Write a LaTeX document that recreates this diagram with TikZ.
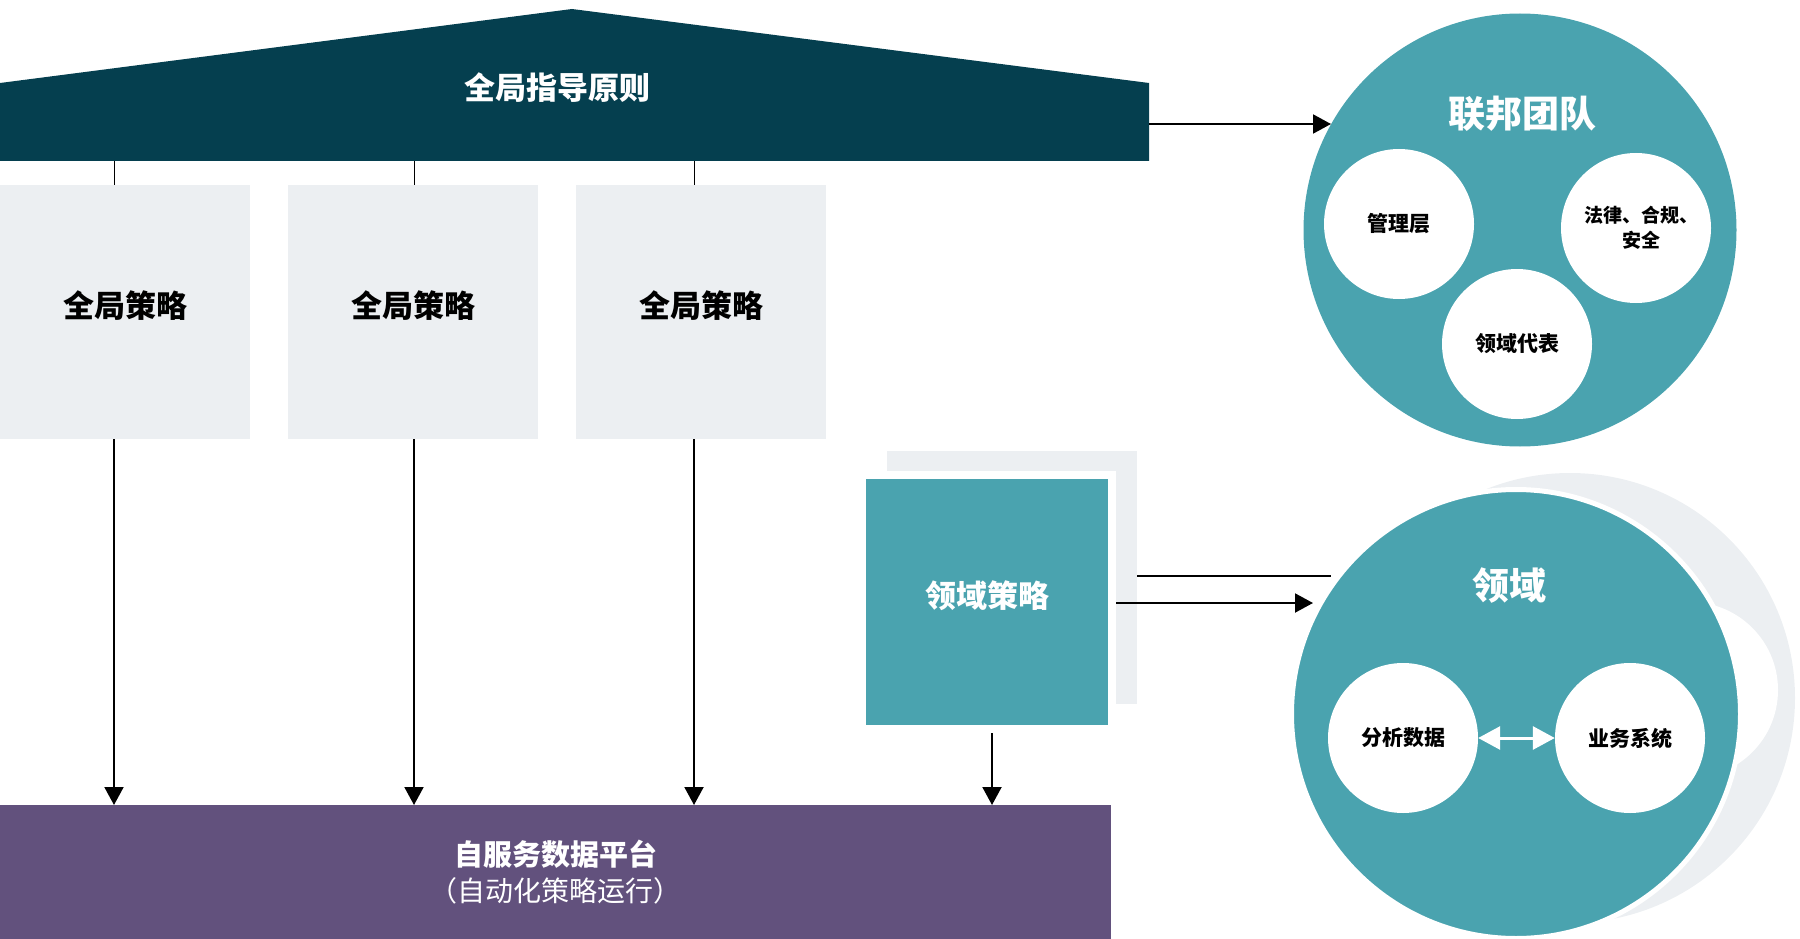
\documentclass[tikz,border=0pt]{standalone}
\usepackage{fontspec}
\setmainfont{Noto Sans CJK SC}
\usetikzlibrary{arrows.meta}

\definecolor{roofblue}{HTML}{053F4F}
\definecolor{panelgray}{HTML}{ECEFF2}
\definecolor{tealc}{HTML}{4AA3AF}
\definecolor{purplec}{HTML}{62517D}

\begin{document}
\begin{tikzpicture}[x=1pt, y=-1pt,
  gbox/.style={fill=panelgray, minimum width=250pt, minimum height=254pt, inner sep=0pt,
    text depth=16pt, font=\fontsize{31}{36}\selectfont\bfseries},
  title/.style={text=white, font=\fontsize{37}{42}\selectfont\bfseries},
  bigcirc/.style={circle, fill=tealc, inner sep=0pt},
  smallcirc/.style={circle, fill=white, minimum size=150pt, inner sep=0pt, align=center,
    font=\fontsize{21}{26}\selectfont\bfseries},
  link/.style={line width=1pt},
  arr/.style={line width=2pt, -{Triangle[width=19pt,length=18pt]}},
  warr/.style={white, line width=3pt,
    {Triangle[width=23pt,length=22pt]}-{Triangle[width=23pt,length=22pt]}}]
  \useasboundingbox (0,0) rectangle (1800,939);
  % 屋顶：全局指导原则
  \fill[roofblue] (0,83) -- (572,9) -- (1149,83) -- (1149,161) -- (0,161) -- cycle;
  \node[fill=roofblue, anchor=north west, minimum width=1149pt, minimum height=78pt,
    inner sep=0pt] (roof) at (0,83) {};
  \node[text=white, font=\fontsize{31}{36}\selectfont\bfseries] (rooftxt) at (557,88) {全局指导原则};
  % 三根支柱
  \node[gbox] (g1) at (125,312) {全局策略};
  \node[gbox] (g2) at (413,312) {全局策略};
  \node[gbox] (g3) at (701,312) {全局策略};
  \coordinate (c1) at (114,0);
  \coordinate (c2) at (414,0);
  \coordinate (c3) at (694,0);
  \coordinate (c4) at (992,0);
  % 底座：自服务数据平台
  \node[fill=purplec, anchor=north west, minimum width=1111pt, minimum height=134pt,
    inner sep=0pt, text=white, align=center, font=\fontsize{29}{36}\selectfont] (plat) at (0,805)
    {\bfseries 自服务数据平台\\
     {\fontsize{28}{36}\selectfont （自动化策略运行）}};
  \foreach \g/\c in {g1/c1, g2/c2, g3/c3} {
    \draw[link] (roof.south -| \c) -- (\g.north -| \c);
    \draw[arr]  (\g.south -| \c) -- (plat.north -| \c);
  }
  % 领域策略（叠放）
  \node[fill=panelgray, minimum width=250pt, minimum height=253pt, inner sep=0pt] (gback) at (1012,577) {};
  \node[fill=tealc, draw=white, line width=8pt, minimum width=250pt, minimum height=254pt,
    inner sep=0pt, text depth=16pt, text=white, font=\fontsize{31}{36}\selectfont\bfseries]
    (dpol) at (987,602) {领域策略};
  \draw[arr] (dpol.south -| c4) -- (plat.north -| c4);
  % 联邦团队
  \node[bigcirc, minimum size=433pt] (fed) at (1520,230) {};
  \node[title] (fedtxt) at (1522,114) {联邦团队};
  \node[smallcirc] (mgmt)  at (1399,224) {管理层};
  \node[smallcirc, font=\fontsize{19}{25}\selectfont\bfseries] (legal) at (1636,228)
    {\hspace*{10pt}法律、合规、\\\hspace*{10pt}安全};
  \node[smallcirc] (rep)   at (1517,344) {领域代表};
  \coordinate (l3) at (1331,124);
  \draw[arr] (roof.east |- l3) -- (l3);
  % 领域（叠放）
  \node[circle, fill=panelgray, minimum size=450pt, inner sep=0pt] (domback) at (1570,698) {};
  \node[circle, fill=white, minimum size=176pt, inner sep=0pt] (dombump) at (1690,690) {};
  \node[bigcirc, draw=white, line width=5pt, minimum size=449pt] (dom) at (1516,714) {};
  \node[title] (domtxt) at (1509,586) {领域};
  \node[smallcirc] (ana) at (1403,738) {分析数据};
  \node[smallcirc] (biz) at (1630,738) {业务系统};
  \draw[warr] (ana) -- (biz);
  \coordinate (l1) at (1331,576);
  \coordinate (l2) at (1313,603);
  \draw[link, line width=2pt] (gback.east |- l1) -- (l1);
  \draw[arr] (dpol.east |- l2) -- (l2);
\end{tikzpicture}
\end{document}
